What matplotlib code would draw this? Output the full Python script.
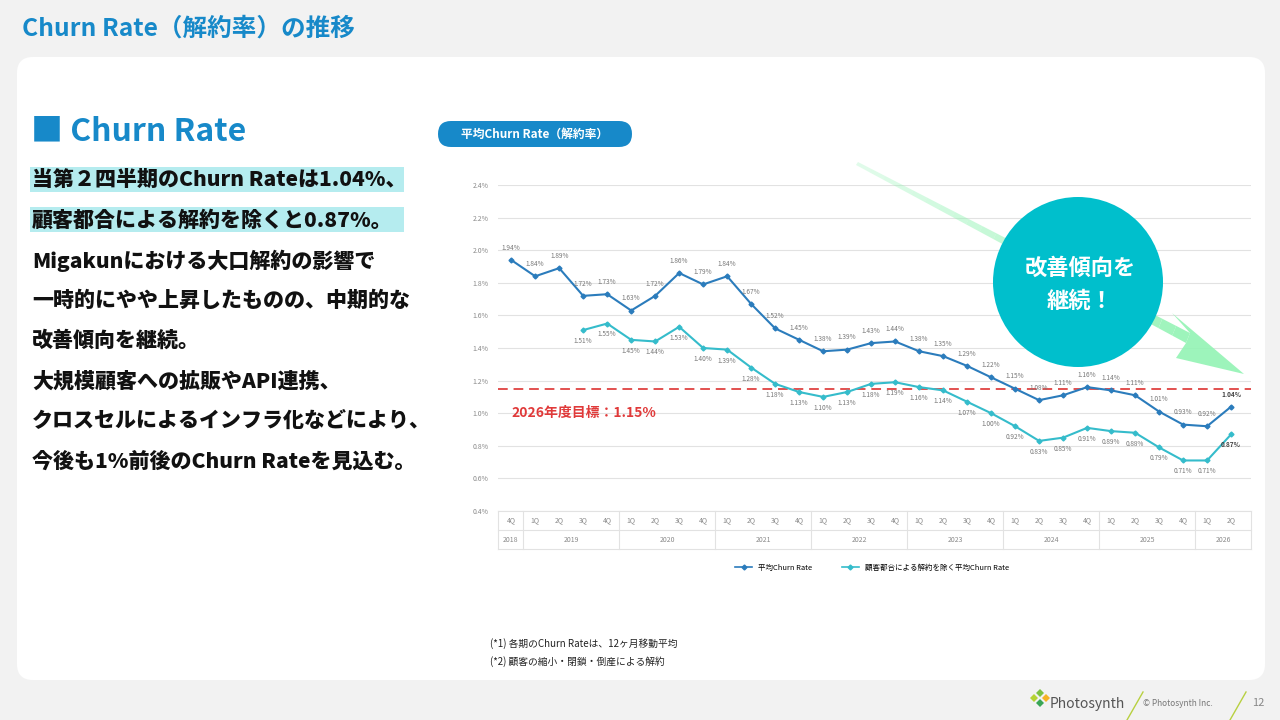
import numpy as np
import matplotlib
matplotlib.use("Agg")
from matplotlib import pyplot as plt
from matplotlib.patches import FancyBboxPatch, Circle, Polygon, Rectangle
from matplotlib.lines import Line2D

plt.rcParams["font.family"] = ["Noto Sans CJK JP", "DejaVu Sans"]

# ---- data ----
years = ["2018", "2019", "2020", "2021", "2022", "2023", "2024", "2025", "2026"]
year_counts = [1, 4, 4, 4, 4, 4, 4, 4, 2]
quarters = ["4Q"] + ["1Q", "2Q", "3Q", "4Q"] * 7 + ["1Q", "2Q"]

churn_avg = [1.94, 1.84, 1.89, 1.72, 1.73, 1.63, 1.72, 1.86, 1.79, 1.84, 1.67,
             1.52, 1.45, 1.38, 1.39, 1.43, 1.44, 1.38, 1.35, 1.29, 1.22, 1.15,
             1.08, 1.11, 1.16, 1.14, 1.11, 1.01, 0.93, 0.92, 1.04]
churn_excl_start = 3  # starts at 3Q 2019
churn_excl = [1.51, 1.55, 1.45, 1.44, 1.53, 1.40, 1.39, 1.28, 1.18, 1.13, 1.10,
              1.13, 1.18, 1.19, 1.16, 1.14, 1.07, 1.00, 0.92, 0.83, 0.85, 0.91,
              0.89, 0.88, 0.79, 0.71, 0.71, 0.87]
target = 1.15

series_names = ["平均Churn Rate", "顧客都合による解約を除く平均Churn Rate"]
yticks = [0.4, 0.6, 0.8, 1.0, 1.2, 1.4, 1.6, 1.8, 2.0, 2.2, 2.4]

body_lines = [
    "当第２四半期のChurn Rateは1.04%、",
    "顧客都合による解約を除くと0.87%。",
    "Migakunにおける大口解約の影響で",
    "一時的にやや上昇したものの、中期的な",
    "改善傾向を継続。",
    "大規模顧客への拡販やAPI連携、",
    "クロスセルによるインフラ化などにより、",
    "今後も1%前後のChurn Rateを見込む。",
]
notes = ["(*1) 各期のChurn Rateは、12ヶ月移動平均",
         "(*2) 顧客の縮小・閉鎖・倒産による解約"]

BLUE = "#1789c9"
C_AVG = "#2b7cbc"
C_EXCL = "#35bccb"
GREY = "#8a8a8a"

W, H = 1280, 720
fig = plt.figure(figsize=(W / 100, H / 100), dpi=100)
fig.patch.set_facecolor("#f2f2f2")

# background / pixel canvas
bg = fig.add_axes([0, 0, 1, 1], zorder=0)
bg.set_xlim(0, W)
bg.set_ylim(H, 0)
bg.axis("off")

bg.add_patch(FancyBboxPatch((17, 57), 1248, 623,
                            boxstyle="round,pad=0,rounding_size=16",
                            facecolor="white", edgecolor="none"))
bg.text(22, 29, "Churn Rate（解約率）の推移", color=BLUE, fontsize=17.7,
        fontweight="bold", va="center", ha="left")
bg.text(31, 131, "■ Churn Rate", color=BLUE, fontsize=23,
        fontweight="bold", va="center", ha="left")

# highlighted body text
for i, line in enumerate(body_lines):
    y = 180 + i * 40.2
    if i < 2:
        bg.add_patch(Rectangle((30, y - 13), 374, 25, facecolor="#b5ecef",
                               edgecolor="none"))
    bg.text(32, y, line, fontsize=15.1, fontweight=900, color="#111111",
            va="center", ha="left")

# chart badge
bg.add_patch(FancyBboxPatch((438, 121), 194, 26,
                            boxstyle="round,pad=0,rounding_size=13",
                            facecolor=BLUE, edgecolor="none"))
bg.text(535, 134, "平均Churn Rate（解約率）", color="white", fontsize=8.5,
        fontweight="bold", va="center", ha="center")

for i, n in enumerate(notes):
    bg.text(490, 644 + i * 18, n, fontsize=7, color="#222222",
            va="center", ha="left")

# footer
leaf_cols = ["#7cc242", "#f5b324", "#3aa655", "#b5d334"]
for (dx, dy), c in zip([(0, -5), (6, 0), (0, 5), (-6, 0)], leaf_cols):
    bg.add_patch(Polygon([(1036 + dx, 698 + dy), (1040 + dx, 694 + dy),
                          (1044 + dx, 698 + dy), (1040 + dx, 702 + dy)],
                         closed=True, facecolor=c, edgecolor="none"))
bg.text(1050, 704, "Photosynth", fontsize=10, color="#555555",
        va="center", ha="left")
bg.plot([1127, 1143], [720, 692], color="#b8d040", lw=1)
bg.text(1143, 704, "© Photosynth Inc.", fontsize=6, color="#777777",
        va="center", ha="left")
bg.plot([1230, 1246], [720, 692], color="#b8d040", lw=1)
bg.text(1252, 703, "12", fontsize=8, color="#888888", va="center", ha="left")

# ---- chart ----
x_left, x_right, y_top, y_bot = 498, 1251, 185, 511
ax = fig.add_axes([x_left / W, 1 - y_bot / H, (x_right - x_left) / W,
                   (y_bot - y_top) / H], zorder=1)
ax.patch.set_alpha(0)
n = len(churn_avg)
x_avg = np.arange(n)
x_excl = np.arange(churn_excl_start, churn_excl_start + len(churn_excl))

ax.set_xlim(-0.55, n - 0.17)
ax.set_ylim(yticks[0], yticks[-1])
ax.set_yticks(yticks)
ax.set_yticklabels([f"{v:.1f}%" for v in yticks], fontsize=5, color=GREY)
ax.set_xticks([])
ax.tick_params(axis="y", length=0, pad=7)
for s in ax.spines.values():
    s.set_visible(False)
for v in yticks:
    ax.axhline(v, color="#e2e2e2", lw=0.8, zorder=0)

ax.axhline(target, color="#e2504f", lw=1.4, ls=(0, (5, 3)), zorder=1)
ax.text(0, target - 0.15, f"2026年度目標：{target:.2f}%", color="#e03a3a",
        fontsize=10, fontweight="bold", va="center", ha="left")

ax.plot(x_avg, churn_avg, color=C_AVG, lw=1.5, marker="D", ms=2.5, zorder=3,
        label=series_names[0])
ax.plot(x_excl, churn_excl, color=C_EXCL, lw=1.5, marker="D", ms=2.5, zorder=3,
        label=series_names[1])

for i, (x, v) in enumerate(zip(x_avg, churn_avg)):
    last = i == n - 1
    ax.annotate(f"{v:.2f}%", (x, v), xytext=(0, 6), textcoords="offset points",
                ha="center", va="bottom", fontsize=4.7,
                color="#444444" if last else "#777777",
                fontweight="bold" if last else "normal")
for i, (x, v) in enumerate(zip(x_excl, churn_excl)):
    last = i == len(churn_excl) - 1
    ax.annotate(f"{v:.2f}%", (x, v), xytext=(0, -5), textcoords="offset points",
                ha="center", va="top", fontsize=4.7,
                color="#444444" if last else "#777777",
                fontweight="bold" if last else "normal")

# category table under the axis
tr = ax.get_xaxis_transform()
row = 19 / (y_bot - y_top)
for yy in [0, -row, -2 * row]:
    ax.plot([-0.55, n - 0.17], [yy, yy], transform=tr, color="#e2e2e2",
            lw=0.8, clip_on=False)
for i, q in enumerate(quarters):
    ax.text(i, -row / 2, q, transform=tr, ha="center", va="center",
            fontsize=5, color=GREY)
edges = np.concatenate([[0], np.cumsum(year_counts)]) - 0.5
edges[0] = -0.55
edges[-1] = n - 0.17
for e in edges:
    ax.plot([e, e], [0, -2 * row], transform=tr, color="#e2e2e2", lw=0.8,
            clip_on=False)
for y_name, a, b in zip(years, edges[:-1], edges[1:]):
    ax.text((a + b) / 2, -1.5 * row, y_name, transform=tr, ha="center",
            va="center", fontsize=5, color=GREY)

leg_handles = [Line2D([], [], color=C_AVG, marker="D", ms=2.5, lw=1.2),
               Line2D([], [], color=C_EXCL, marker="D", ms=2.5, lw=1.2)]
ax.legend(leg_handles, series_names, loc="center", ncol=2, frameon=False,
          fontsize=5.4, bbox_to_anchor=(0.497, -0.175), handlelength=2.2,
          columnspacing=4)

# ---- overlay: arrow + bubble ----
ov = fig.add_axes([0, 0, 1, 1], zorder=2)
ov.set_xlim(0, W)
ov.set_ylim(H, 0)
ov.axis("off")
ov.patch.set_alpha(0)
# shaft drawn in pieces so it fades in toward the head
p0u, p0l = np.array([858.0, 162.0]), np.array([856.0, 165.0])
p1u, p1l = np.array([1190.0, 333.0]), np.array([1186.0, 343.0])
steps = 24
for k in range(steps):
    a, b = k / steps, (k + 1) / steps
    quad = [p0u + (p1u - p0u) * a, p0u + (p1u - p0u) * b,
            p0l + (p1l - p0l) * b, p0l + (p1l - p0l) * a]
    ov.add_patch(Polygon(quad, closed=True, facecolor="#93f3b4",
                         edgecolor="none", alpha=0.25 + 0.65 * b))
ov.add_patch(Polygon([(1190, 333), (1172, 313), (1244, 374), (1176, 358),
                      (1186, 343)],
                     closed=True, facecolor="#93f3b4", edgecolor="none",
                     alpha=0.9))
ov.add_patch(Circle((1078, 282), 85, facecolor="#00bfcc", edgecolor="none"))
ov.text(1080, 285, "改善傾向を\n継続！", color="white", fontsize=16,
        fontweight="bold", ha="center", va="center", linespacing=1.55)

fig.savefig("out.png", dpi=100, facecolor=fig.get_facecolor())
